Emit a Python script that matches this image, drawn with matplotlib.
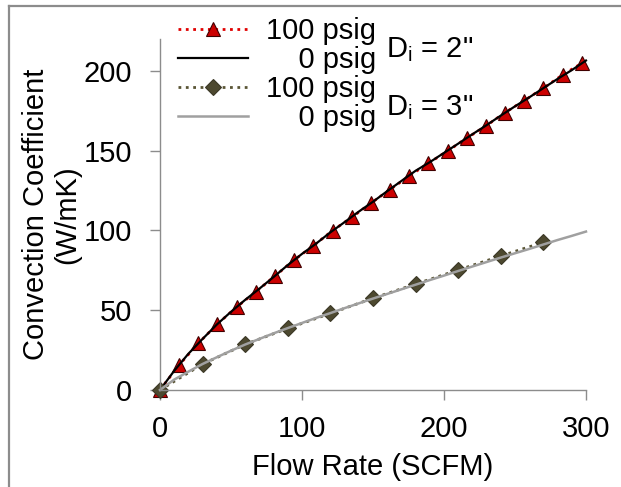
import matplotlib
matplotlib.use("Agg")
import matplotlib.pyplot as plt
from matplotlib.lines import Line2D

plt.rcParams['font.family'] = ['Liberation Sans', 'DejaVu Sans']
plt.rcParams['mathtext.fontset'] = 'custom'
plt.rcParams['mathtext.rm'] = 'Liberation Sans'

FS = 21

# Di = 2", 100 psig (markers) and 0 psig (solid)
flow_2in_100 = [0, 13.5, 27, 40.5, 54, 67.5, 81, 94.5, 108, 121.5, 135, 148.5,
                162, 175.5, 189, 202.5, 216, 229.5, 243, 256.5, 270, 283.5, 297]
h_2in_100 = [0, 15.7, 29.3, 41.4, 52.0, 61.5, 71.5, 81.5, 90.4, 99.9, 108.2, 117.1,
             125.6, 134.2, 142.1, 149.8, 157.8, 165.5, 173.9, 181.4, 189.2, 197.5, 204.8]
flow_2in_0 = [0, 10, 20, 30, 40, 50, 60, 70, 80, 90, 100, 110, 120, 130, 140, 150,
              160, 170, 180, 190, 200, 210, 220, 230, 240, 250, 260, 270, 280, 290, 300]
h_2in_0 = [0, 12.0, 22.7, 32.0, 41.0, 49.0, 56.5, 63.5, 70.8, 78.3, 85.3, 91.8, 98.8,
           105.2, 111.8, 118.0, 124.6, 131.0, 137.4, 142.8, 148.6, 154.4, 160.3, 166.0,
           172.0, 177.8, 183.4, 189.2, 195.0, 200.5, 206.5]

# Di = 3"
flow_3in_100 = [0, 30, 60, 90, 120, 150, 180, 210, 240, 270]
h_3in_100 = [0, 16.2, 28.6, 38.6, 48.0, 57.5, 66.4, 75.2, 84.0, 92.6]
flow_3in_0 = [0, 10, 20, 30, 40, 50, 60, 70, 80, 90, 100, 110, 120, 130, 140, 150,
              160, 170, 180, 190, 200, 210, 220, 230, 240, 250, 260, 270, 280, 290, 300]
h_3in_0 = [0, 6.5, 11.5, 16.3, 20.5, 24.6, 28.5, 32.0, 35.5, 38.8, 42.0, 45.2, 48.2,
           51.3, 54.3, 57.3, 60.2, 63.1, 66.0, 68.9, 71.7, 74.6, 77.4, 80.2, 83.0, 85.7,
           88.4, 91.2, 94.0, 96.6, 99.3]

fig = plt.figure(figsize=(6.21, 4.87), dpi=100)
ax = fig.add_axes([0.2576, 0.1992, 0.686, 0.7207])

ax.plot(flow_2in_100, h_2in_100, ls=':', lw=2, color='#E00000', marker='^', ms=10,
        mfc='#CC0000', mec='#400000', mew=0.8, clip_on=False, label='100 psig')
ax.plot(flow_2in_0, h_2in_0, '-', lw=1.6, color='black', clip_on=False, label='\u2007\u20070 psig')
ax.plot(flow_3in_100, h_3in_100, ls=':', lw=2, color='#5A5535', marker='D', ms=8.5,
        mfc='#4D4930', mec='#3B3826', mew=0.8, clip_on=False, label='100 psig')
ax.plot(flow_3in_0, h_3in_0, '-', lw=1.8, color='#A0A0A0', clip_on=False, label='\u2007\u20070 psig')

ax.set_xlim(0, 300)
ax.set_ylim(0, 220)
ax.set_xticks([0, 100, 200, 300])
ax.set_yticks([0, 50, 100, 150, 200])

for side in ['top', 'right']:
    ax.spines[side].set_visible(False)
for side in ['left', 'bottom']:
    ax.spines[side].set_color('#8C8C8C')
    ax.spines[side].set_linewidth(1.0)

ax.tick_params(axis='both', direction='out', length=7, width=1, color='#8C8C8C',
               labelsize=FS, labelcolor='black')
ax.tick_params(axis='y', pad=13)
ax.tick_params(axis='x', pad=11)

ax.set_xlabel('Flow Rate (SCFM)', fontsize=FS, labelpad=7)
ax.set_ylabel('Convection Coefficient\n(W/mK)', fontsize=FS, labelpad=2, linespacing=1.12)

leg = ax.legend(loc='upper left', bbox_to_anchor=(178 / 621, 1 - 17 / 487),
                bbox_transform=fig.transFigure, frameon=False, fontsize=FS,
                handlelength=2.4, handletextpad=0.6, labelspacing=0.04,
                borderpad=0, borderaxespad=0)

fig.text(386 / 621, 1 - 50 / 487, 'D$_\\mathrm{i}$ = 2"', fontsize=FS, va='center', ha='left')
fig.text(386 / 621, 1 - 108 / 487, 'D$_\\mathrm{i}$ = 3"', fontsize=FS, va='center', ha='left')

# outer frame, top and left edges only
fig.add_artist(Line2D([9 / 621, 9 / 621], [0, 1 - 6 / 487], transform=fig.transFigure,
                      color='#8C8C8C', lw=1.6))
fig.add_artist(Line2D([9 / 621, 1], [1 - 6 / 487, 1 - 6 / 487], transform=fig.transFigure,
                      color='#8C8C8C', lw=1.6))

fig.savefig('out.png', dpi=100)
